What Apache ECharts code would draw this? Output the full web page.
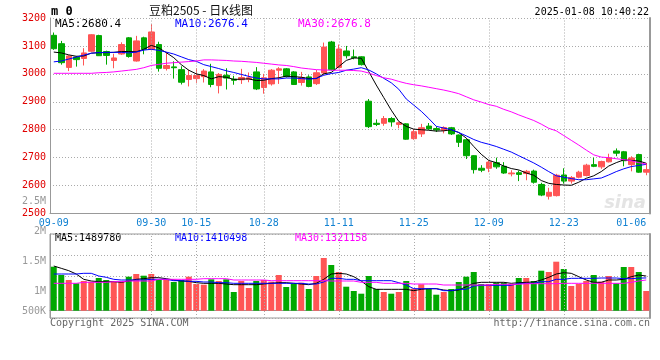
<!DOCTYPE html>
<html><head><meta charset="utf-8">
<script src="https://cdn.jsdelivr.net/npm/echarts@6/dist/echarts.min.js"></script>
<style>html,body{margin:0;padding:0;background:#fff}#c{width:660px;height:360px}</style>
</head><body><div id="c"></div>
<script>
var dates = ['09-09','09-10','09-11','09-12','09-13','09-18','09-19','09-20','09-23','09-24',
'09-25','09-26','09-27','09-30','10-08','10-09','10-10','10-11','10-14','10-15',
'10-16','10-17','10-18','10-21','10-22','10-23','10-24','10-25','10-28','10-29',
'10-30','10-31','11-01','11-04','11-05','11-06','11-07','11-08','11-11','11-12',
'11-13','11-14','11-15','11-18','11-19','11-20','11-21','11-22','11-25','11-26',
'11-27','11-28','11-29','12-02','12-03','12-04','12-05','12-06','12-09','12-10',
'12-11','12-12','12-13','12-16','12-17','12-18','12-19','12-20','12-23','12-24',
'12-25','12-26','12-27','12-30','12-31','01-02','01-03','01-06','01-07','01-08'];
var xTickLabels = ['09-09','09-30','10-15','10-28','11-11','11-25','12-09','12-23','01-06'];
var xGridDates = ['09-30','10-15','10-28','11-11','11-25','12-09','12-23'];

var opens = [3138,3108,3023,3060,3055,3081,3137,3080,3048,3071,
3129,3046,3129,3087,3105,3019,3025,3015,2980,2983,
2990,3007,2958,2995,2981,2979,2981,3007,2951,2964,
3013,3018,3007,2969,2989,2965,3003,3114,3023,3082,
3061,3061,2902,2823,2823,2840,2819,2821,2768,2785,
2813,2804,2798,2807,2781,2764,2707,2662,2662,2682,
2669,2642,2646,2643,2652,2604,2562,2564,2638,2616,
2630,2636,2675,2667,2685,2724,2721,2675,2711,2648];
var closes = [3090,3040,3064,3051,3075,3140,3065,3066,3057,3105,
3062,3118,3088,3150,3020,3030,3022,2970,2994,2994,
3010,2962,2998,2985,2977,2987,2986,2946,2986,3013,
3018,2990,2962,2987,2955,3004,3096,3015,3089,3065,
3058,3033,2811,2819,2840,2828,2825,2766,2793,2807,
2803,2799,2808,2785,2755,2707,2657,2655,2684,2667,
2645,2645,2640,2651,2612,2566,2576,2637,2616,2629,
2648,2673,2669,2686,2699,2716,2689,2699,2648,2657];
var lows = [3086,3033,3010,3026,3030,3079,3064,3033,3020,3068,
3058,3044,3070,3085,3008,3012,2983,2962,2955,2968,
2969,2952,2930,2944,2961,2964,2970,2942,2929,2958,
2964,2987,2960,2958,2952,2960,2998,3012,3020,3055,
3052,3030,2806,2813,2814,2811,2805,2764,2764,2774,
2800,2792,2787,2781,2738,2695,2643,2648,2648,2660,
2642,2633,2616,2619,2607,2562,2550,2561,2607,2607,
2626,2633,2666,2660,2683,2705,2669,2651,2646,2637];
var highs = [3148,3118,3067,3064,3092,3142,3140,3083,3072,3113,
3132,3136,3133,3178,3115,3078,3045,3027,3015,3020,
3017,3036,3003,3020,2993,3018,3005,3024,3000,3017,
3024,3021,3010,3007,2995,3014,3112,3118,3105,3100,
3087,3063,2910,2837,2849,2845,2829,2823,2802,2821,
2824,2812,2812,2810,2783,2768,2709,2673,2689,2700,
2684,2655,2654,2656,2657,2610,2592,2642,2662,2634,
2653,2678,2700,2689,2714,2733,2724,2705,2714,2681];

var ma5 = [3078,3075,3068,3063,3064,3074,3076,3076,3077,3080,
3080,3079,3088,3102,3093,3076,3058,3033,3013,3000,
2994,2982,2990,2988,2980,2981,2982,2976,2977,2983,
2986,2992,2990,2988,2983,2983,3000,3005,3026,3048,
3057,3056,3008,2960,2915,2870,2830,2812,2802,2800,
2798,2795,2796,2800,2790,2770,2740,2712,2690,2682,
2670,2661,2656,2645,2637,2618,2608,2604,2602,2601,
2612,2626,2635,2650,2670,2682,2692,2690,2688,2680];
var ma10 = [3043,3046,3053,3060,3067,3074,3076,3077,3077,3077,
3075,3078,3085,3088,3084,3078,3071,3061,3051,3045,
3033,3026,3019,3011,3005,2998,2991,2985,2982,2982,
2982,2985,2985,2983,2981,2984,2995,3001,3005,3013,
3017,3022,3014,3000,2984,2968,2945,2910,2888,2866,
2840,2812,2806,2800,2790,2778,2765,2755,2748,2740,
2730,2720,2707,2694,2681,2666,2650,2635,2630,2625,
2621,2621,2624,2627,2638,2650,2660,2668,2672,2676];
var ma30 = [3002,3002,3002,3002,3002,3002,3004,3005,3007,3010,
3013,3016,3022,3030,3034,3038,3040,3042,3044,3046,
3050,3050,3049,3048,3046,3045,3043,3041,3038,3035,
3032,3030,3026,3021,3018,3015,3014,3013,3013,3013,
3012,3010,3003,2994,2986,2981,2973,2966,2961,2957,
2952,2947,2942,2936,2929,2918,2907,2899,2890,2884,
2873,2864,2853,2843,2833,2820,2805,2796,2779,2762,
2745,2727,2710,2702,2700,2696,2693,2689,2682,2677];

// volumes in thousands of lots
var volumesK = [1892,1535,1320,1178,1277,1247,1406,1320,1247,1247,
1462,1578,1505,1578,1320,1350,1234,1320,1462,1148,
1118,1350,1277,1350,804,1277,976,1277,1320,1247,
1535,1019,1148,1204,933,1492,2266,1965,1664,1032,
847,731,1492,933,804,731,804,1277,946,1135,
933,688,804,933,1234,1462,1664,1148,1148,1204,
1204,1135,1406,1406,1277,1720,1664,2107,1793,1062,
1148,1277,1535,1247,1492,1178,1879,1879,1664,847];
var volMa5K = [1922,1822,1721,1578,1349,1277,1248,1248,1248,1220,
1277,1349,1377,1420,1420,1377,1320,1277,1263,1205,
1177,1177,1177,1148,1119,1119,1119,1119,1148,1177,
1205,1205,1177,1148,1119,1177,1349,1578,1607,1578,
1463,1277,1033,919,919,919,919,919,861,919,
947,947,890,861,890,1033,1177,1220,1220,1220,
1220,1177,1205,1220,1234,1320,1435,1578,1635,1607,
1463,1320,1220,1220,1320,1320,1349,1463,1535,1490];
var volMa10K = [1578,1578,1578,1578,1607,1607,1492,1435,1349,1320,
1320,1320,1320,1349,1349,1349,1291,1291,1263,1263,
1234,1234,1205,1205,1177,1177,1177,1177,1177,1177,
1177,1177,1177,1177,1148,1148,1234,1392,1392,1349,
1349,1291,1291,1291,1291,1291,1205,1105,947,947,
947,947,861,861,919,919,1062,1091,1091,1091,
1091,1091,1177,1177,1177,1248,1248,1349,1349,1392,
1392,1392,1392,1406,1406,1406,1377,1377,1400,1410];
var volMa30K = [1177,1177,1177,1177,1220,1220,1220,1220,1248,1248,
1277,1277,1277,1277,1349,1349,1349,1349,1349,1349,
1377,1377,1377,1377,1320,1320,1320,1320,1320,1291,
1291,1291,1291,1291,1291,1291,1291,1277,1277,1277,
1277,1220,1220,1220,1177,1177,1177,1177,1148,1148,
1148,1148,1105,1105,1105,1105,1105,1105,1105,1134,
1134,1134,1134,1162,1162,1162,1162,1162,1177,1177,
1177,1177,1177,1177,1177,1177,1177,1220,1277,1321];
var volAxisTicks = [500000, 1000000, 1500000, 2000000, 2500000];

var RED = '#ff5555', GREEN = '#00a800', MONO = '"DejaVu Sans Mono", "Liberation Mono", monospace';

var candleData = dates.map(function(d, i){ return [opens[i], closes[i], lows[i], highs[i]]; });
var volData = dates.map(function(d, i){
  return {value: volumesK[i], itemStyle: {color: closes[i] >= opens[i] ? RED : GREEN}};
});
var vLines = xGridDates.map(function(d){ return {xAxis: d}; });
var vLineStyle = {color: '#aaa', type: [1, 2], width: 1};

var chart = echarts.init(document.getElementById('c'), null, {renderer: 'canvas'});
function lineSeries(name, data, color, xi, yi, step) {
  return {name: name, type: 'line', data: data, xAxisIndex: xi, yAxisIndex: yi,
    symbol: 'none', step: step || false, lineStyle: {color: color, width: 1}, z: 5, silent: true};
}
chart.setOption({
  animation: false,
  backgroundColor: '#fff',
  grid: [
    {left: 50, right: 10, top: 18, height: 195.5},
    {left: 50, right: 10, top: 234, height: 84, show: true, borderColor: '#999', borderWidth: 1},
    {left: 50, right: 10, top: 201, height: 120}
  ],
  xAxis: [
    {type: 'category', gridIndex: 0, data: dates, boundaryGap: true,
      axisLine: {lineStyle: {color: '#999', width: 1}}, axisTick: {show: false},
      splitLine: {show: false},
      axisLabel: {color: '#1282d2', fontSize: 10, fontFamily: MONO, margin: 5,
        interval: function(idx){ return xTickLabels.indexOf(dates[idx]) >= 0; }}},
    {type: 'category', gridIndex: 1, data: dates, boundaryGap: true,
      axisLine: {lineStyle: {color: '#999'}}, axisTick: {show: false},
      axisLabel: {show: false}, splitLine: {show: false}},
    {type: 'category', gridIndex: 2, data: dates, show: false}
  ],
  yAxis: [
    {type: 'value', gridIndex: 0, min: 2500, max: 3200, interval: 100,
      axisLine: {show: true, lineStyle: {color: '#999'}}, axisTick: {show: false},
      axisLabel: {color: '#e00000', fontSize: 10, fontFamily: MONO, margin: 4,
        formatter: function(v){ return String(v); }},
      splitLine: {show: true, lineStyle: {color: '#aaa', type: [1, 2]}}},
    {type: 'value', gridIndex: 0, position: 'right', min: 2500, max: 3200,
      axisLine: {show: true, lineStyle: {color: '#999', width: 2}}, axisTick: {show: false},
      axisLabel: {show: false}, splitLine: {show: false}},
    {type: 'value', gridIndex: 1, min: -314, max: 3298, interval: 903,
      axisLine: {show: true, lineStyle: {color: '#999'}}, axisTick: {show: false},
      axisLabel: {show: false},
      splitLine: {show: true, lineStyle: {color: '#aaa', type: [1, 2]}}},
    {type: 'value', gridIndex: 1, position: 'right', min: -314, max: 3298,
      axisLine: {show: true, lineStyle: {color: '#999', width: 2}}, axisTick: {show: false},
      axisLabel: {show: false}, splitLine: {show: false}},
    {type: 'value', gridIndex: 2, min: volAxisTicks[0], max: volAxisTicks[volAxisTicks.length - 1], interval: 500000,
      axisLine: {show: false}, axisTick: {show: false}, splitLine: {show: false},
      axisLabel: {color: '#999', fontSize: 10, fontFamily: MONO, margin: 4, lineHeight: 20,
        verticalAlignMinLabel: 'bottom',
        formatter: function(v){ return v >= 1000000 ? (v / 1000000) + 'M' : (v / 1000) + 'K'; }}}
  ],
  series: [
    {type: 'candlestick', xAxisIndex: 0, yAxisIndex: 0, data: candleData, barWidth: 6, silent: true,
      itemStyle: {color: RED, color0: GREEN, borderColor: RED, borderColor0: GREEN, borderWidth: 1},
      markLine: {silent: true, symbol: ['none', 'none'], label: {show: false},
        lineStyle: vLineStyle, data: vLines}},
    lineSeries('MA5', ma5, '#000000', 0, 0),
    lineSeries('MA10', ma10, '#0000ff', 0, 0),
    lineSeries('MA30', ma30, '#ff00ff', 0, 0),
    {type: 'bar', xAxisIndex: 1, yAxisIndex: 2, data: volData, barWidth: 6, silent: true,
      markLine: {silent: true, symbol: ['none', 'none'], label: {show: false},
        lineStyle: vLineStyle, data: vLines}},
    lineSeries('VMA5', volMa5K, '#000000', 1, 2),
    lineSeries('VMA10', volMa10K, '#0000ff', 1, 2),
    lineSeries('VMA30', volMa30K, '#ff00ff', 1, 2)
  ],
  graphic: [
    {type: 'text', x: 51, y: 12, style: {text: 'm 0', fill: '#000', font: 'bold 12px ' + MONO, verticalAlign: 'middle'}},
    {type: 'text', x: 201, y: 10, style: {text: '豆粕2505 - 日K线图', fill: '#111', font: '12px "Noto Sans CJK SC"', align: 'center', verticalAlign: 'middle'}},
    {type: 'text', x: 649, y: 12, style: {text: '2025-01-08 10:40:22', fill: '#000', font: '10px ' + MONO, align: 'right', verticalAlign: 'middle'}},
    {type: 'text', x: 55, y: 24, style: {text: 'MA5:2680.4', fill: '#000', font: '11px ' + MONO, verticalAlign: 'middle'}},
    {type: 'text', x: 175, y: 24, style: {text: 'MA10:2676.4', fill: '#0000ff', font: '11px ' + MONO, verticalAlign: 'middle'}},
    {type: 'text', x: 298, y: 24, style: {text: 'MA30:2676.8', fill: '#ff00ff', font: '11px ' + MONO, verticalAlign: 'middle'}},
    {type: 'text', x: 55, y: 238, style: {text: 'MA5:1489780', fill: '#000', font: '10px ' + MONO, verticalAlign: 'middle'}},
    {type: 'text', x: 175, y: 238, style: {text: 'MA10:1410498', fill: '#0000ff', font: '10px ' + MONO, verticalAlign: 'middle'}},
    {type: 'text', x: 295, y: 238, style: {text: 'MA30:1321158', fill: '#ff00ff', font: '10px ' + MONO, verticalAlign: 'middle'}},
    {type: 'text', x: 50, y: 323, style: {text: 'Copyright 2025 SINA.COM', fill: '#666', font: '10px ' + MONO, verticalAlign: 'middle'}},
    {type: 'text', x: 650, y: 323, style: {text: 'http://finance.sina.com.cn', fill: '#666', font: '10px ' + MONO, align: 'right', verticalAlign: 'middle'}},
    {type: 'text', x: 646, y: 203, z: -1, style: {text: 'sina', fill: '#e4e4e4', font: 'italic bold 18px "DejaVu Sans"', align: 'right', verticalAlign: 'middle'}}
  ]
});
</script>
</body></html>
